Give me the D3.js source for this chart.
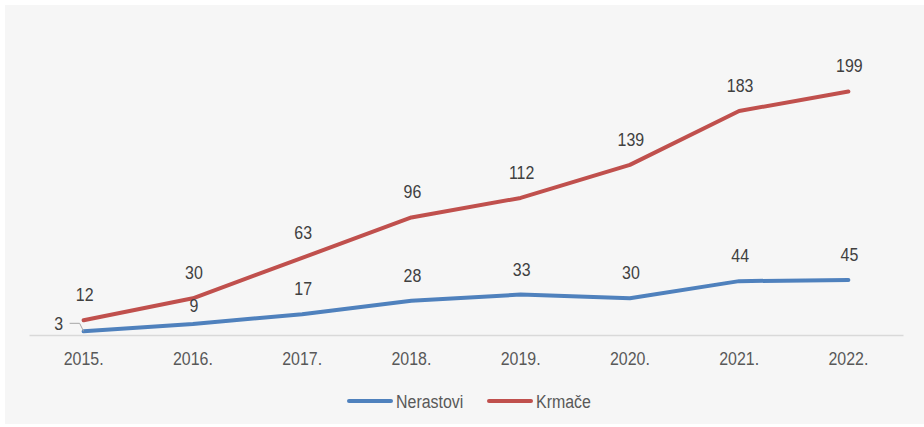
<!DOCTYPE html>
<html>
<head>
<meta charset="utf-8">
<script src="https://cdn.jsdelivr.net/npm/d3@7"></script>
<style>
  body { margin: 0; background: #fff; }
  svg { display: block; font-family: "Liberation Sans", Arial, sans-serif; }
</style>
</head>
<body>
<svg id="svg" width="924" height="427"></svg>
<script>
var years = ["2015.", "2016.", "2017.", "2018.", "2019.", "2020.", "2021.", "2022."];
var nerastovi = [3, 9, 17, 28, 33, 30, 44, 45];
var krmace = [12, 30, 63, 96, 112, 139, 183, 199];
var seriesNames = ["Nerastovi", "Krmače"];

// the original font is a narrow sans, so squeeze Liberation Sans
var narrow = 0.84;
var svg = d3.select("#svg");

function placeText(sel, x, y) {
  sel.attr("transform", "translate(" + x + "," + y + ") scale(" + narrow + ",1)");
}

// background panel
svg.append("rect")
  .attr("x", 5).attr("y", 5)
  .attr("width", 919).attr("height", 419)
  .attr("fill", "#f6f6f6");

var xScale = d3.scaleBand()
  .domain(years)
  .range([29, 903]);

var yScale = d3.scaleLinear()
  .domain([0, 250])
  .range([335, 29]);

var cx = function (d) { return xScale(d) + xScale.bandwidth() / 2; };

// x axis
var xAxis = svg.append("g")
  .attr("transform", "translate(0,335)")
  .call(d3.axisBottom(xScale).tickSize(0).tickPadding(17));
xAxis.select(".domain").attr("stroke", "#d9d9d9").attr("stroke-width", 1.3);
xAxis.selectAll("text")
  .attr("font-size", "19px")
  .attr("fill", "#595959")
  .attr("font-family", "Liberation Sans, Arial, sans-serif")
  .attr("transform", "scale(" + narrow + ",1)");

var series = [
  { name: seriesNames[0], values: nerastovi, color: "#4f81bd" },
  { name: seriesNames[1], values: krmace, color: "#c0504d" }
];

var line = d3.line()
  .x(function (d, i) { return cx(years[i]); })
  .y(function (d) { return yScale(d); });

series.forEach(function (s) {
  svg.append("path")
    .datum(s.values)
    .attr("fill", "none")
    .attr("stroke", s.color)
    .attr("stroke-width", 4)
    .attr("stroke-linecap", "round")
    .attr("stroke-linejoin", "round")
    .attr("d", line);
});

// data labels
var labels = svg.append("g")
  .attr("font-size", "19px")
  .attr("fill", "#404040")
  .attr("text-anchor", "middle");

krmace.forEach(function (v, i) {
  labels.append("text")
    .call(placeText, cx(years[i]) + 1, yScale(v) - 19)
    .text(v);
});

nerastovi.forEach(function (v, i) {
  var x = cx(years[i]) + 1;
  var y = yScale(v) - 19;
  if (i === 0) {
    // label moved to the left with a leader line
    x = cx(years[i]) - 25;
    y = yScale(v) - 1;
    svg.append("path")
      .attr("d", "M" + (cx(years[i]) - 14) + "," + (yScale(v) - 8) +
        " L" + (cx(years[i]) - 4) + "," + (yScale(v) - 8) +
        " L" + cx(years[i]) + "," + yScale(v))
      .attr("fill", "none")
      .attr("stroke", "#a6a6a6")
      .attr("stroke-width", 1);
  } else if (i === 1) {
    y = yScale(v) - 12;
  }
  labels.append("text")
    .call(placeText, x, y)
    .text(v);
});

// legend
var legend = svg.append("g").attr("transform", "translate(347,401)");
series.forEach(function (s, i) {
  var g = legend.append("g").attr("transform", "translate(" + (i * 140) + ",0)");
  g.append("line")
    .attr("x1", 2).attr("x2", 44)
    .attr("y1", 0).attr("y2", 0)
    .attr("stroke", s.color)
    .attr("stroke-width", 4)
    .attr("stroke-linecap", "round");
  g.append("text")
    .call(placeText, 49, 7)
    .attr("font-size", "19px")
    .attr("fill", "#595959")
    .text(s.name);
});
</script>
</body>
</html>
